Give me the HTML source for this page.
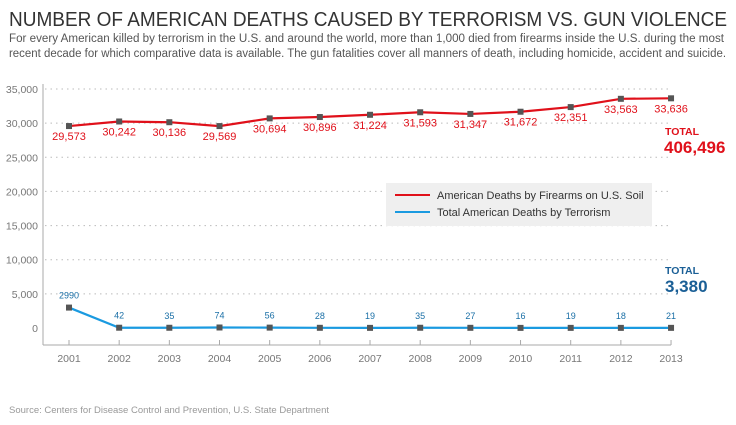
<!DOCTYPE html>
<html><head><meta charset="utf-8"><style>
body{margin:0;background:#fff;font-family:"Liberation Sans",sans-serif;}
svg{display:block}
</style></head><body>
<svg id="c" width="736" height="425" viewBox="0 0 736 425">
<text x="9" y="26" font-size="20.5" fill="#333" textLength="718" lengthAdjust="spacingAndGlyphs">NUMBER OF AMERICAN DEATHS CAUSED BY TERRORISM VS. GUN VIOLENCE</text>
<text x="9" y="42" font-size="11.5" fill="#555" textLength="715" lengthAdjust="spacingAndGlyphs">For every American killed by terrorism in the U.S. and around the world, more than 1,000 died from firearms inside the U.S. during the most</text>
<text x="9" y="57" font-size="11.5" fill="#555" textLength="717" lengthAdjust="spacingAndGlyphs">recent decade for which comparative data is available. The gun fatalities cover all manners of death, including homicide, accident and suicide.</text>
<g id="grid"></g><g id="axes"></g><g id="series"></g>
<rect x="386" y="183" width="266" height="43" fill="#efefef"/>
<line x1="395" y1="195" x2="430" y2="195" stroke="#e0101a" stroke-width="2"/>
<text x="437" y="199" font-size="11" fill="#333">American Deaths by Firearms on U.S. Soil</text>
<line x1="395" y1="212" x2="430" y2="212" stroke="#1a9ae0" stroke-width="2"/>
<text x="437" y="216" font-size="11" fill="#333">Total American Deaths by Terrorism</text>
<text x="665" y="135" font-size="10.5" font-weight="bold" fill="#e0101a">TOTAL</text>
<text x="664" y="153" font-size="17" font-weight="bold" fill="#e0101a">406,496</text>
<text x="665" y="274" font-size="10.5" font-weight="bold" fill="#1a5f96">TOTAL</text>
<text x="665" y="292" font-size="17" font-weight="bold" fill="#1a5f96">3,380</text>
<text x="9" y="413" font-size="9.5" fill="#999">Source: Centers for Disease Control and Prevention, U.S. State Department</text>
</svg>
<script>
const years=[2001,2002,2003,2004,2005,2006,2007,2008,2009,2010,2011,2012,2013];
const firearms=[29573,30242,30136,29569,30694,30896,31224,31593,31347,31672,32351,33563,33636];
const terrorism=[2990,42,35,74,56,28,19,35,27,16,19,18,21];
const yTicks=[0,5000,10000,15000,20000,25000,30000,35000];
const NS="http://www.w3.org/2000/svg";
const X=i=>69+i*50.17;
const Y=v=>328-v*239/35000;
function mk(p,t,a){const e=document.createElementNS(NS,t);for(const k in a)e.setAttribute(k,a[k]);p.appendChild(e);return e;}
const grid=document.getElementById('grid'),axes=document.getElementById('axes'),ser=document.getElementById('series');
const fmt=v=>v.toLocaleString('en-US');
yTicks.forEach(t=>{
 if(t>0){const l=mk(grid,'line',{x1:45,x2:672,y1:Y(t),y2:Y(t),stroke:'#bbb','stroke-dasharray':'1.5,4'});
 
 }
 const tx=mk(axes,'text',{x:38,y:Y(t)+4,'font-size':10.5,fill:'#777','text-anchor':'end'});tx.textContent=fmt(t);
 
 
});
const ya=mk(axes,'line',{x1:43,x2:43,y1:84,y2:345,stroke:'#aaa','stroke-width':1});


const xa=mk(axes,'line',{x1:43,x2:X(12),y1:345,y2:345,stroke:'#aaa','stroke-width':1});


years.forEach((yr,i)=>{
 const tk=mk(axes,'line',{x1:X(i),x2:X(i),y1:340,y2:345,stroke:'#aaa'});
 
 
 const tx=mk(axes,'text',{x:X(i),y:362,'font-size':10.5,fill:'#777','text-anchor':'middle'});tx.textContent=yr;
 
 
});
function series(vals,color,name,lab,labColor){
 const pl=mk(ser,'polyline',{points:vals.map((v,i)=>X(i)+','+Y(v)).join(' '),fill:'none',stroke:color,'stroke-width':2.2});
 
 
 vals.forEach((v,i)=>{
  const r=mk(ser,'rect',{x:X(i)-3,y:Y(v)-3,width:6,height:6,fill:'#555'});
  
  
  const t=mk(ser,'text',{x:X(i),y:Y(v)+lab(i),'font-size':lab(i)>0?11:9,fill:labColor,'text-anchor':'middle'});
  t.textContent=name==='firearms'?fmt(v):String(v);
  
  
 });
}
series(firearms,'#e0101a','firearms',()=>14,'#e0101a');
series(terrorism,'#1a9ae0','terrorism',()=>-9,'#1a6fa6');
</script>
</body></html>
